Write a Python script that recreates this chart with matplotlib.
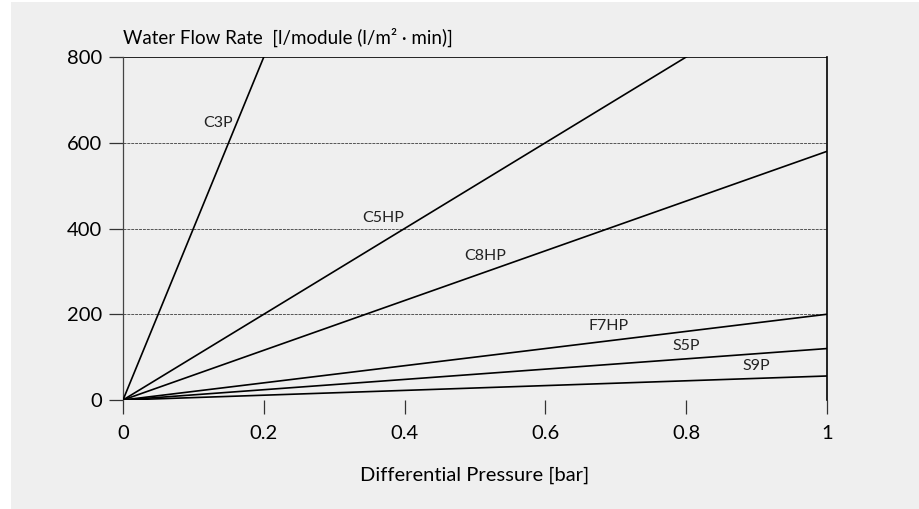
import matplotlib.pyplot as plt
from matplotlib.patches import Rectangle

# slopes of flow vs differential pressure (l/module per bar)
names = ['C3P', 'C5HP', 'C8HP', 'F7HP', 'S5P', 'S9P']
flow_at_1bar = [4000, 1000, 580, 200, 120, 56]
pressure = [0.0, 1.0]

label_x = [0.135, 0.37, 0.515, 0.69, 0.80, 0.90]
label_y = [645, 425, 335, 172, 126, 79]

yticks = [0, 200, 400, 600, 800]
xticks = [0, 0.2, 0.4, 0.6, 0.8, 1]
xtick_labels = ['0', '0.2', '0.4', '0.6', '0.8', '1']

bg = '#efefef'
plt.rcParams['font.family'] = ['Lato', 'DejaVu Sans']

fig = plt.figure(figsize=(9.19, 5.09), dpi=100)
fig.patch.set_facecolor('white')
fig.patches.append(Rectangle((11 / 919, 0), 1, 1 - 2 / 509, transform=fig.transFigure,
                             facecolor=bg, edgecolor='none', zorder=-10))

ax = fig.add_axes([123 / 919, 1 - 400 / 509, 704 / 919, 343 / 509])
ax.set_facecolor(bg)

for name, k, lx, ly in zip(names, flow_at_1bar, label_x, label_y):
    ax.plot(pressure, [p * k for p in pressure], color='black', lw=1.2, zorder=3,
            solid_capstyle='butt')
    ax.text(lx, ly, name, fontsize=11.5, ha='center', va='center', color='#222222')

for y in [0, 200, 400, 600]:
    ax.axhline(y, color='#555555', lw=0.7, ls=(0, (3, 1)), zorder=1)
ax.axhline(800, color='black', lw=1.2, zorder=2)

ax.set_xlim(0, 1)
ax.set_ylim(0, 800)
ax.set_xticks(xticks)
ax.set_xticklabels(xtick_labels)
ax.set_yticks(yticks)

ax.spines['top'].set_visible(False)
ax.spines['bottom'].set_visible(False)
ax.spines['left'].set_color('#444444')
ax.spines['left'].set_linewidth(0.9)
ax.spines['right'].set_color('black')
ax.spines['right'].set_linewidth(1.2)

ax.tick_params(axis='both', direction='out', length=10, width=0.9, color='#333333',
               labelsize=14.5, pad=5)
ax.tick_params(axis='x', pad=8)

ax.text(0, 1.03, 'Water Flow Rate  [l/module (l/m² · min)]', transform=ax.transAxes,
        fontsize=13.5, ha='left', va='bottom')
ax.set_xlabel('Differential Pressure [bar]', fontsize=14.5, labelpad=18)

fig.savefig('out.png', dpi=100, facecolor='white')
